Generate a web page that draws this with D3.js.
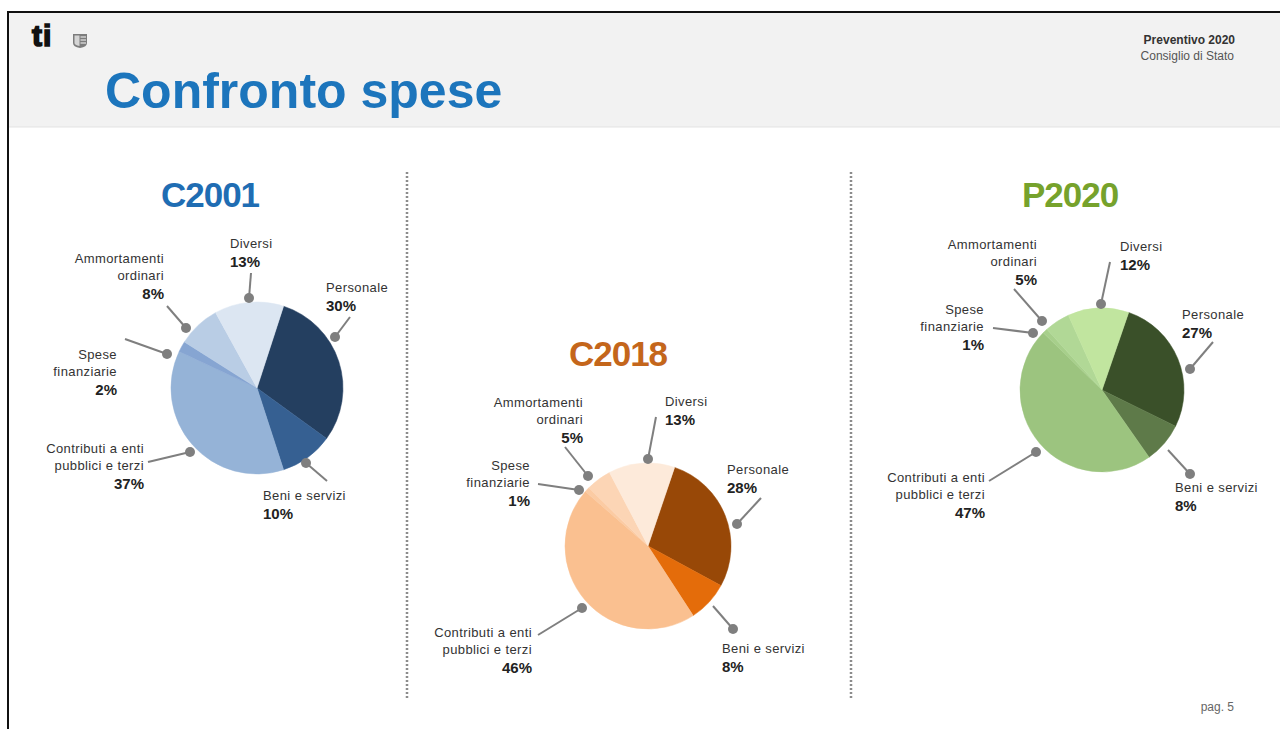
<!DOCTYPE html>
<html>
<head>
<meta charset="utf-8">
<script src="https://cdn.jsdelivr.net/npm/d3@7"></script>
<style>
  body { margin: 0; background: #fff; }
  svg text { font-family: Arial, "Liberation Sans", sans-serif; }
</style>
</head>
<body>
<div id="chart"></div>
<script>
// data
var categories = ["Personale", "Beni e servizi", "Contributi a enti pubblici e terzi", "Spese finanziarie", "Ammortamenti ordinari", "Diversi"];
var labelLines = [["Personale"], ["Beni e servizi"], ["Contributi a enti", "pubblici e terzi"], ["Spese", "finanziarie"], ["Ammortamenti", "ordinari"], ["Diversi"]];
var years = ["C2001", "C2018", "P2020"];
var valuesC2001 = [30, 10, 37, 2, 8, 13];
var valuesC2018 = [28, 8, 46, 1, 5, 13];
var valuesP2020 = [27, 8, 47, 1, 5, 12];
var seriesValues = [valuesC2001, valuesC2018, valuesP2020];

// styling / layout
var palettes = [
  ["#243f60", "#366092", "#95b3d7", "#86a5d2", "#b9cde5", "#dce6f2"],
  ["#984807", "#e46c0a", "#fac090", "#fbcba3", "#fcd5b5", "#fdeada"],
  ["#3a5029", "#5e7a49", "#9cc47f", "#a7cf8b", "#b1d896", "#c1e59f"]
];
var titleColors = ["#1f6db3", "#c4661b", "#76a22c"];
var pies = [
  {cx: 257, cy: 388, r: 86, start: 18, tx: 210, ty: 207},
  {cx: 648, cy: 546, r: 83, start: 18.7, tx: 618, ty: 366},
  {cx: 1102, cy: 390, r: 82, start: 19, tx: 1070, ty: 207}
];
// callout offsets relative to pie centre: dot, line end, text x, first baseline, anchor
var calloutsC2001 = [
  {dot: [78, -51], end: [93, -71], x: 69, y: -96, a: "start"},
  {dot: [49, 75], end: [70, 93], x: 6, y: 112, a: "start"},
  {dot: [-67, 64], end: [-109, 74], x: -113, y: 65, a: "end"},
  {dot: [-90, -34], end: [-132, -49], x: -140, y: -29, a: "end"},
  {dot: [-71, -60], end: [-90, -82], x: -93, y: -125, a: "end"},
  {dot: [-8, -90], end: [-6, -115], x: -27, y: -140, a: "start"}
];
var calloutsC2018 = [
  {dot: [89, -22], end: [113, -48], x: 79, y: -72, a: "start"},
  {dot: [85, 83], end: [65, 60], x: 74, y: 107, a: "start"},
  {dot: [-66, 62], end: [-110, 89], x: -116, y: 91, a: "end"},
  {dot: [-69, -56], end: [-110, -62], x: -118, y: -76, a: "end"},
  {dot: [-60, -70], end: [-83, -99], x: -65, y: -139, a: "end"},
  {dot: [0, -87], end: [8, -129], x: 17, y: -140, a: "start"}
];
var calloutsP2020 = [
  {dot: [88, -21], end: [111, -48], x: 80, y: -71, a: "start"},
  {dot: [88, 84], end: [66, 60], x: 73, y: 102, a: "start"},
  {dot: [-66, 62], end: [-113, 91], x: -117, y: 92, a: "end"},
  {dot: [-69, -57], end: [-109, -62], x: -118, y: -76, a: "end"},
  {dot: [-60, -69], end: [-88, -101], x: -65, y: -141, a: "end"},
  {dot: [-1, -86], end: [8, -128], x: 18, y: -139, a: "start"}
];
var callouts = [calloutsC2001, calloutsC2018, calloutsP2020];

var width = 1280, height = 729;

var svg = d3.select("#chart")
  .append("svg")
  .attr("width", width)
  .attr("height", height);

// header band and frame
svg.append("rect").attr("x", 8).attr("y", 12).attr("width", width - 8).attr("height", 115).style("fill", "#f2f2f2");
svg.append("line").attr("x1", 8).attr("x2", width).attr("y1", 127).attr("y2", 127).style("stroke", "#e3e3e3").style("stroke-width", 1);
svg.append("path")
  .attr("d", "M8," + height + "V12H" + width)
  .style("fill", "none").style("stroke", "#111").style("stroke-width", 2);

// logo
svg.append("text").attr("x", 32).attr("y", 46).text("ti")
  .style("font-size", "30px").style("font-weight", "900").style("fill", "#111")
  .style("stroke", "#111").style("stroke-width", 1.6).style("letter-spacing", "1px");
var shield = svg.append("g").attr("transform", "translate(73,34)");
shield.append("path").attr("d", "M0,0H14V9Q14,13 7,14Q0,13 0,9Z").style("fill", "#7d7d7d");
shield.append("path").attr("d", "M1.5,1.5H6.5V12Q1.5,11 1.5,9Z").style("fill", "#d5d5d5");
[3, 6, 9].forEach(function(k) {
  shield.append("line").attr("x1", 7.5).attr("x2", 13).attr("y1", k).attr("y2", k).style("stroke", "#e6e6e6").style("stroke-width", 1.2);
});

svg.append("text").attr("x", 105).attr("y", 108).text("Confronto spese")
  .style("font-size", "50px").style("font-weight", "bold").style("fill", "#1c75bc");

svg.append("text").attr("x", 1235).attr("y", 44).attr("text-anchor", "end").text("Preventivo 2020")
  .style("font-size", "12px").style("font-weight", "bold").style("fill", "#333");
svg.append("text").attr("x", 1234).attr("y", 60).attr("text-anchor", "end").text("Consiglio di Stato")
  .style("font-size", "12px").style("fill", "#555");

svg.append("text").attr("x", 1234).attr("y", 711).attr("text-anchor", "end").text("pag. 5")
  .style("font-size", "12px").style("fill", "#666");

// dotted separators
[407, 851].forEach(function(sx) {
  svg.append("line").attr("x1", sx).attr("x2", sx).attr("y1", 172).attr("y2", 700)
    .style("stroke", "#8c8c8c").style("stroke-width", 2.5).style("stroke-dasharray", "2,2");
});

// pies
seriesValues.forEach(function(vals, i) {
  var p = pies[i];
  var rows = vals.map(function(v, j) { return {cat: categories[j], value: v, idx: j}; });
  var pie = d3.pie().sort(null).value(function(d) { return d.value; })
    .startAngle(p.start * Math.PI / 180)
    .endAngle((p.start + 360) * Math.PI / 180);
  var arc = d3.arc().innerRadius(0).outerRadius(p.r);
  var color = d3.scaleOrdinal().domain(categories).range(palettes[i]);

  var g = svg.append("g").attr("transform", "translate(" + p.cx + "," + p.cy + ")");

  g.selectAll("path.slice")
    .data(pie(rows))
    .enter()
    .append("path")
    .attr("class", "slice")
    .attr("d", arc)
    .style("fill", function(d) { return color(d.data.cat); })
    .style("stroke", function(d) { return color(d.data.cat); })
    .style("stroke-width", 0.5);

  // title
  svg.append("text").attr("x", p.tx).attr("y", p.ty).attr("text-anchor", "middle").text(years[i])
    .style("font-size", "35px").style("font-weight", "bold").style("fill", titleColors[i]).style("letter-spacing", "-1px");

  // callouts
  var co = g.selectAll("g.callout")
    .data(rows)
    .enter()
    .append("g")
    .attr("class", "callout");

  co.append("line")
    .attr("x1", function(d) { return callouts[i][d.idx].dot[0]; })
    .attr("y1", function(d) { return callouts[i][d.idx].dot[1]; })
    .attr("x2", function(d) { return callouts[i][d.idx].end[0]; })
    .attr("y2", function(d) { return callouts[i][d.idx].end[1]; })
    .style("stroke", "#7f7f7f").style("stroke-width", 2);

  co.append("circle")
    .attr("cx", function(d) { return callouts[i][d.idx].dot[0]; })
    .attr("cy", function(d) { return callouts[i][d.idx].dot[1]; })
    .attr("r", 5)
    .style("fill", "#7f7f7f");

  co.each(function(d) {
    var c = callouts[i][d.idx];
    var lines = labelLines[d.idx];
    var sel = d3.select(this);
    lines.forEach(function(t, k) {
      sel.append("text").attr("x", c.x).attr("y", c.y + k * 17).attr("text-anchor", c.a).text(t)
        .style("font-size", "13px").style("letter-spacing", "0.4px").style("fill", "#333");
    });
    sel.append("text").attr("x", c.x).attr("y", c.y + (lines.length - 1) * 17 + 19).attr("text-anchor", c.a)
      .text(d.value + "%")
      .style("font-size", "15px").style("font-weight", "bold").style("fill", "#222");
  });
});
</script>
</body>
</html>
